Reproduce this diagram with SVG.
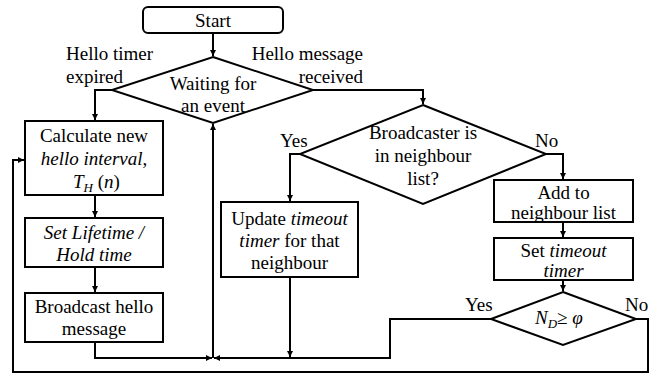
<svg xmlns="http://www.w3.org/2000/svg" width="660" height="374" viewBox="0 0 660 374">
<style>
.s{fill:#fff;stroke:#000;stroke-width:2}
.c{fill:none;stroke:#000;stroke-width:2}
text{font-family:"Times New Roman",Times,"Liberation Serif","DejaVu Serif",serif;font-size:19px;fill:#000}
.m{text-anchor:middle}
.i{font-style:italic}
</style>
<defs>
<marker id="a" markerUnits="userSpaceOnUse" markerWidth="8" markerHeight="8" refX="6" refY="3" orient="auto">
<path d="M0,0 L6,3 L0,6 z" fill="#000"/>
</marker>
</defs>
<g id="connectors">
<path class="c" d="M213,33 V56" marker-end="url(#a)"/>
<path class="c" d="M112,90 H95 V120" marker-end="url(#a)"/>
<path class="c" d="M313,90 H423 V104" marker-end="url(#a)"/>
<path class="c" d="M95,195 V217" marker-end="url(#a)"/>
<path class="c" d="M95,267 V292" marker-end="url(#a)"/>
<path class="c" d="M95,342 V358 H212" marker-end="url(#a)"/>
<path class="c" d="M300,154 H290 V201" marker-end="url(#a)"/>
<path class="c" d="M546,154 H563 V179" marker-end="url(#a)"/>
<path class="c" d="M290,277 V357" marker-end="url(#a)"/>
<path class="c" d="M563,222 V237" marker-end="url(#a)"/>
<path class="c" d="M563,280 V291" marker-end="url(#a)"/>
<path class="c" d="M491,319 H390 V358 H214" marker-end="url(#a)"/>
<path class="c" d="M213,358 V124" marker-end="url(#a)"/>
<path class="c" d="M636,319 H648 V372 H13 V160 H24" marker-end="url(#a)"/>
</g>
<g id="start">
<rect class="s" x="143" y="7" width="140" height="26" rx="5"/>
<text class="m" x="213" y="27">Start</text>
</g>
<g id="wait">
<path class="s" d="M213,57 L313,90 L213,123 L112,90 z"/>
<text class="m" x="213" y="90">Waiting for</text>
<text class="m" x="213" y="112">an event</text>
</g>
<g id="labels1">
<text x="66" y="60">Hello timer</text>
<text x="66" y="83">expired</text>
<text x="363" y="60" text-anchor="end">Hello message</text>
<text x="363" y="83" text-anchor="end">received</text>
</g>
<g id="calc">
<rect class="s" x="25" y="121" width="138" height="74"/>
<text class="m" x="94" y="142">Calculate new</text>
<text class="m i" x="94" y="165">hello interval<tspan font-style="normal">,</tspan></text>
<text x="73" y="188"><tspan class="i">T</tspan><tspan class="i" font-size="13" dy="4">H</tspan><tspan dy="-4"> (</tspan><tspan class="i">n</tspan>)</text>
</g>
<g id="lifetime">
<rect class="s" x="25" y="218" width="138" height="49"/>
<text class="m i" x="94" y="239">Set Lifetime /</text>
<text class="m i" x="94" y="261">Hold time</text>
</g>
<g id="broadcast">
<rect class="s" x="25" y="293" width="138" height="49"/>
<text class="m" x="94" y="313">Broadcast hello</text>
<text class="m" x="94" y="335">message</text>
</g>
<g id="bcast-in-list">
<path class="s" d="M423,105 L546,154 L423,204 L300,154 z"/>
<text class="m" x="423" y="139">Broadcaster is</text>
<text class="m" x="423" y="162">in neighbour</text>
<text class="m" x="423" y="185">list?</text>
<text x="280" y="147">Yes</text>
<text x="535" y="147">No</text>
</g>
<g id="update">
<rect class="s" x="221" y="202" width="137" height="75"/>
<text class="m" x="289.5" y="225">Update <tspan class="i">timeout</tspan></text>
<text class="m" x="289.5" y="247"><tspan class="i">timer</tspan> for that</text>
<text class="m" x="289.5" y="269">neighbour</text>
</g>
<g id="add">
<rect class="s" x="494" y="180" width="139" height="42"/>
<text class="m" x="563.5" y="199">Add to</text>
<text class="m" x="563.5" y="219">neighbour list</text>
</g>
<g id="settimeout">
<rect class="s" x="494" y="238" width="139" height="42"/>
<text class="m" x="563.5" y="257">Set <tspan class="i">timeout</tspan></text>
<text class="m i" x="563.5" y="277">timer</text>
</g>
<g id="nd">
<path class="s" d="M563,292 L636,319 L563,345 L491,319 z"/>
<text x="535" y="324"><tspan class="i">N</tspan><tspan class="i" font-size="13" dy="4">D</tspan><tspan dy="-4">≥ </tspan><tspan class="i">φ</tspan></text>
<text x="465" y="311">Yes</text>
<text x="625" y="311">No</text>
</g>
</svg>
